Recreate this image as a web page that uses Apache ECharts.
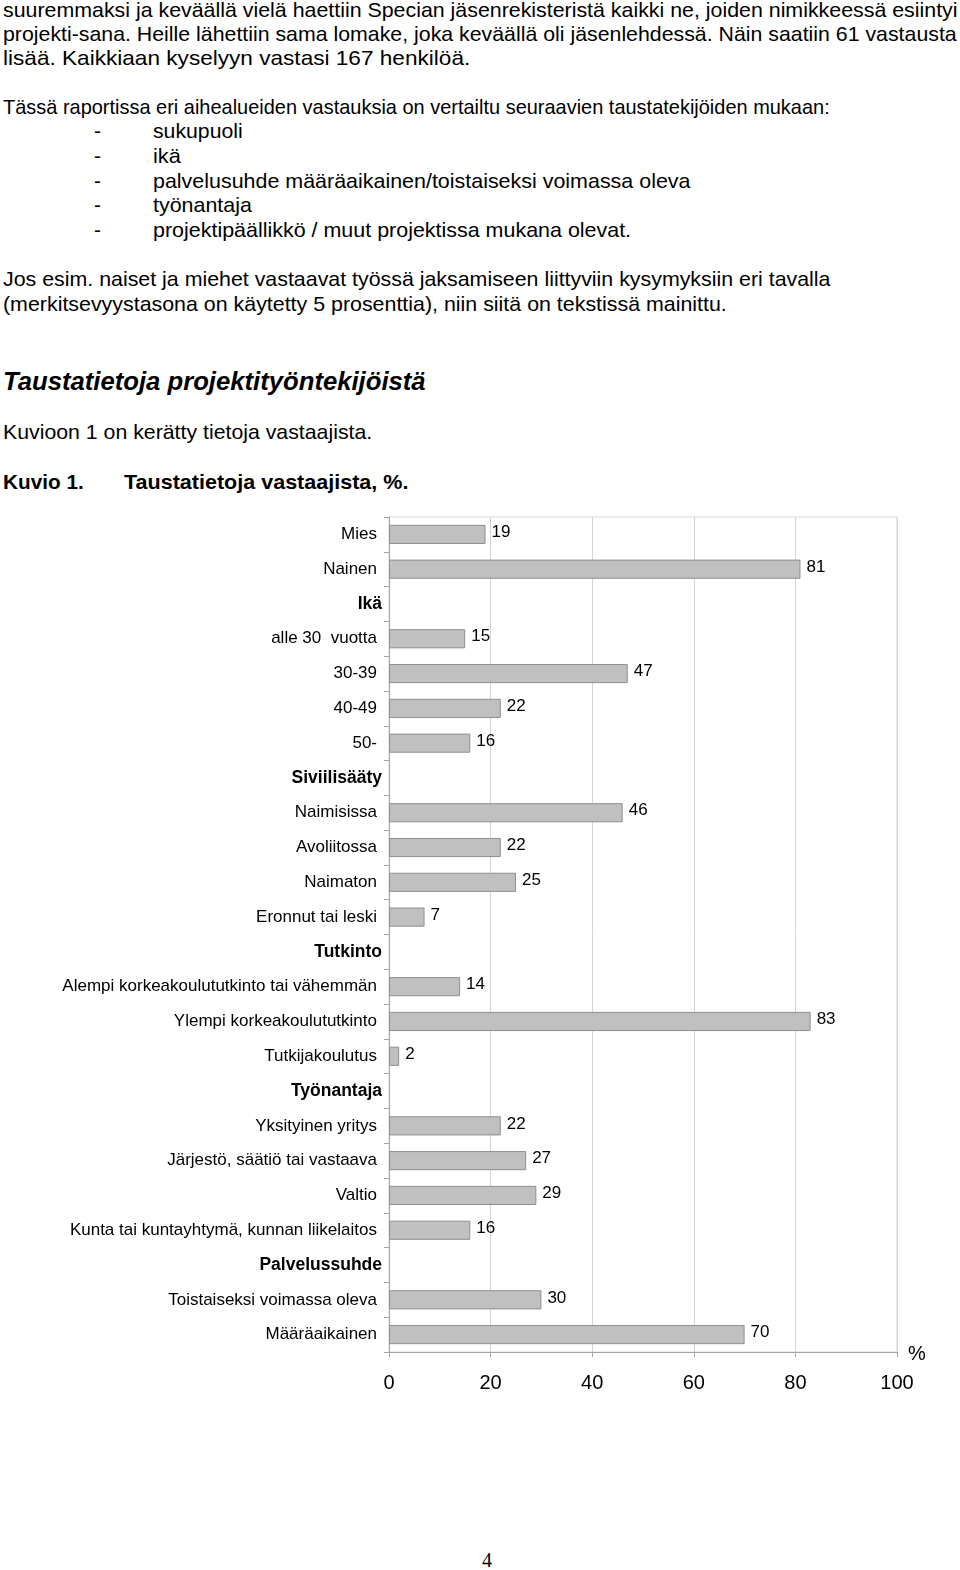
<!DOCTYPE html>
<html>
<head>
<meta charset="utf-8">
<script src="https://cdn.jsdelivr.net/npm/echarts@6/dist/echarts.min.js"></script>
<style>
  html, body { margin: 0; padding: 0; background: #fff; }
  body { width: 960px; height: 1570px; position: relative; overflow: hidden;
         font-family: "Liberation Sans", Arial, sans-serif; color: #000; }
  .ln { position: absolute; left: 3px; font-size: 21px; line-height: 24px; white-space: nowrap;
        transform-origin: 0 50%; }
  .dash { position: absolute; left: 94px; }
  .btxt { left: 153px; }
  #chart { position: absolute; left: 0; top: 490px; width: 960px; height: 930px; }
  #pg { position: absolute; left: 482px; top: 1549px; font-family: "Liberation Serif", "DejaVu Serif", serif; font-size: 20px; }
</style>
</head>
<body>
<div class="ln fit" data-r="957" style="top:-2px">suuremmaksi ja keväällä vielä haettiin Specian jäsenrekisteristä kaikki ne, joiden nimikkeessä esiintyi</div>
<div class="ln fit" data-r="957" style="top:22px">projekti-sana. Heille lähettiin sama lomake, joka keväällä oli jäsenlehdessä. Näin saatiin 61 vastausta</div>
<div class="ln fit" data-r="470" style="top:46px">lisää. Kaikkiaan kyselyyn vastasi 167 henkilöä.</div>
<div class="ln fit" data-r="830" style="top:95px">Tässä raportissa eri aihealueiden vastauksia on vertailtu seuraavien taustatekijöiden mukaan:</div>
<div class="ln dash" style="top:119px">-</div><div class="ln btxt fit" data-r="243" style="top:119px">sukupuoli</div>
<div class="ln dash" style="top:144px">-</div><div class="ln btxt fit" data-r="181" style="top:144px">ikä</div>
<div class="ln dash" style="top:169px">-</div><div class="ln btxt fit" data-r="690" style="top:169px">palvelusuhde määräaikainen/toistaiseksi voimassa oleva</div>
<div class="ln dash" style="top:193px">-</div><div class="ln btxt fit" data-r="252" style="top:193px">työnantaja</div>
<div class="ln dash" style="top:218px">-</div><div class="ln btxt fit" data-r="631" style="top:218px">projektipäällikkö / muut projektissa mukana olevat.</div>
<div class="ln fit" data-r="830" style="top:267px">Jos esim. naiset ja miehet vastaavat työssä jaksamiseen liittyviin kysymyksiin eri tavalla</div>
<div class="ln fit" data-r="727" style="top:292px">(merkitsevyystasona on käytetty 5 prosenttia), niin siitä on tekstissä mainittu.</div>
<div class="ln fit" data-r="426" style="top:367px;font-size:25px;line-height:28px;font-weight:bold;font-style:italic">Taustatietoja projektityöntekijöistä</div>
<div class="ln fit" data-r="372" style="top:420px">Kuvioon 1 on kerätty tietoja vastaajista.</div>
<div class="ln fit" data-r="84" style="top:470px;font-weight:bold">Kuvio 1.</div>
<div class="ln fit" data-r="408" style="top:470px;left:124px;font-weight:bold">Taustatietoja vastaajista, %.</div>
<div id="chart"></div>
<div id="pg">4</div>
<script>
// ---- data ----
const categories = [
  "Mies", "Nainen",
  "Ikä", "alle 30  vuotta", "30-39", "40-49", "50-",
  "Siviilisääty", "Naimisissa", "Avoliitossa", "Naimaton", "Eronnut tai leski",
  "Tutkinto", "Alempi korkeakoulututkinto tai vähemmän", "Ylempi korkeakoulututkinto", "Tutkijakoulutus",
  "Työnantaja", "Yksityinen yritys", "Järjestö, säätiö tai vastaava", "Valtio", "Kunta tai kuntayhtymä, kunnan liikelaitos",
  "Palvelussuhde", "Toistaiseksi voimassa oleva", "Määräaikainen"
];
const headers = ["Ikä", "Siviilisääty", "Tutkinto", "Työnantaja", "Palvelussuhde"];
const values = [
  19, 81,
  null, 15, 47, 22, 16,
  null, 46, 22, 25, 7,
  null, 14, 83, 2,
  null, 22, 27, 29, 16,
  null, 30, 70
];
const xTicks = [0, 20, 40, 60, 80, 100];

// fit each text line horizontally to its right edge in the reference
document.querySelectorAll('.fit').forEach(el => {
  const left = el.offsetLeft;
  const w = el.scrollWidth;
  const target = parseFloat(el.dataset.r) - left;
  el.style.transform = 'scaleX(' + (target / w).toFixed(4) + ')';
});

const chart = echarts.init(document.getElementById('chart'), null, { renderer: 'canvas' });
chart.setOption({
  animation: false,
  grid: { left: 389, right: 63, top: 27, bottom: 68, show: true, borderColor: '#d8d8d8', borderWidth: 1 },
  xAxis: {
    type: 'value', min: xTicks[0], max: xTicks[xTicks.length - 1], interval: 20,
    axisLine: { show: true, lineStyle: { color: '#a6a6a6', width: 1 } },
    axisTick: { show: true, length: 5, lineStyle: { color: '#a6a6a6' } },
    splitLine: { show: true, lineStyle: { color: '#d4d4d4', width: 1 } },
    axisLabel: { fontSize: 20, color: '#000', margin: 21, fontFamily: 'Liberation Sans' },
    name: '%', nameLocation: 'end', nameGap: 11,
    nameTextStyle: { fontSize: 20, color: '#000', fontFamily: 'Liberation Sans', verticalAlign: 'bottom', padding: [0, 0, -12, 0] }
  },
  yAxis: {
    type: 'category', data: categories, inverse: true,
    axisLine: { show: true, lineStyle: { color: '#a6a6a6', width: 1 } },
    axisTick: { show: true, length: 5, lineStyle: { color: '#a6a6a6' } },
    splitLine: { show: false },
    axisLabel: {
      interval: 0, margin: 7, fontFamily: 'Liberation Sans',
      formatter: v => headers.includes(v) ? '{h|' + v + '}' : '{n|' + v + '}',
      rich: {
        n: { fontSize: 17, color: '#000', padding: [0, 5, 0, 0], fontFamily: 'Liberation Sans' },
        h: { fontSize: 17.5, color: '#000', fontWeight: 'bold', fontFamily: 'Liberation Sans' }
      }
    }
  },
  series: [{
    type: 'bar', data: values, barWidth: '55%',
    itemStyle: { color: '#c0c0c0', borderColor: '#8f8f8f', borderWidth: 1 },
    label: { show: true, position: 'right', distance: 6, fontSize: 17, color: '#000', fontFamily: 'Liberation Sans', offset: [0, -2] }
  }]
});
</script>
</body>
</html>
